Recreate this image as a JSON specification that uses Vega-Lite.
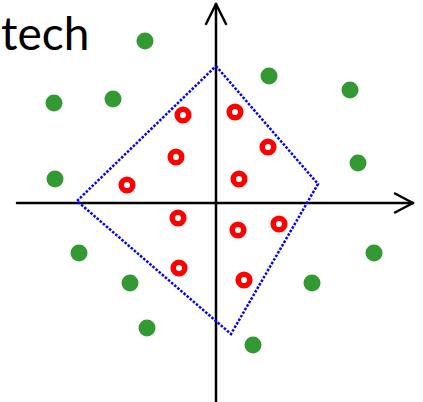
{
  "$schema": "https://vega.github.io/schema/vega-lite/v6.json",
  "width": 423,
  "height": 402,
  "autosize": {"type": "none"},
  "padding": 0,
  "background": "white",
  "config": {"view": {"stroke": null}},
  "layer": [
    {
      "data": {"values": [
        {"x": -19.9, "y": 0, "x2": 19.7, "y2": 0},
        {"x": 0, "y": -20.2, "x2": 0, "y2": 19.9},
        {"x": 0, "y": 19.9, "x2": -1.0, "y2": 17.9},
        {"x": 0, "y": 19.9, "x2": 1.0, "y2": 17.9},
        {"x": 19.7, "y": 0, "x2": 17.9, "y2": 0.95},
        {"x": 19.7, "y": 0, "x2": 17.9, "y2": -0.95}
      ]},
      "mark": {"type": "rule", "color": "black", "strokeWidth": 2.5, "strokeCap": "round"},
      "encoding": {
        "x": {"field": "x", "type": "quantitative", "scale": {"domain": [-21.6, 20.7], "nice": false, "zero": false}, "axis": null},
        "y": {"field": "y", "type": "quantitative", "scale": {"domain": [-19.9, 20.3], "nice": false, "zero": false}, "axis": null},
        "x2": {"field": "x2"},
        "y2": {"field": "y2"}
      }
    },
    {
      "data": {"values": [
        {"x": 0, "y": 13.7, "o": 1},
        {"x": 10.2, "y": 1.9, "o": 2},
        {"x": 1.5, "y": -13.1, "o": 3},
        {"x": -13.9, "y": 0.2, "o": 4},
        {"x": 0, "y": 13.7, "o": 5}
      ]},
      "mark": {"type": "line", "color": "#0000ff", "strokeWidth": 2.5, "strokeDash": [2.5, 1.6]},
      "encoding": {
        "x": {"field": "x", "type": "quantitative", "axis": null},
        "y": {"field": "y", "type": "quantitative", "axis": null},
        "order": {"field": "o", "type": "quantitative"}
      }
    },
    {
      "data": {"values": [
        {"x": -7.1, "y": 16.2},
        {"x": -16.2, "y": 10.0},
        {"x": -10.3, "y": 10.4},
        {"x": -16.1, "y": 2.4},
        {"x": 5.3, "y": 12.7},
        {"x": 13.4, "y": 11.3},
        {"x": 14.2, "y": 4.0},
        {"x": -13.7, "y": -5.0},
        {"x": -8.6, "y": -8.0},
        {"x": -6.9, "y": -12.5},
        {"x": 15.8, "y": -5.0},
        {"x": 9.6, "y": -8.0},
        {"x": 3.7, "y": -14.2}
      ]},
      "mark": {"type": "circle", "color": "#339933", "opacity": 1, "size": 290},
      "encoding": {
        "x": {"field": "x", "type": "quantitative", "axis": null},
        "y": {"field": "y", "type": "quantitative", "axis": null}
      }
    },
    {
      "data": {"values": [
        {"x": -3.3, "y": 8.8},
        {"x": -4.0, "y": 4.6},
        {"x": -8.9, "y": 1.8},
        {"x": 1.9, "y": 9.1},
        {"x": 5.2, "y": 5.6},
        {"x": 2.3, "y": 2.4},
        {"x": -3.8, "y": -1.5},
        {"x": -3.7, "y": -6.5},
        {"x": 2.2, "y": -2.7},
        {"x": 6.3, "y": -2.1},
        {"x": 2.8, "y": -7.7}
      ]},
      "mark": {"type": "point", "shape": "circle", "filled": false, "stroke": "#ff0000", "strokeWidth": 5.5, "opacity": 1, "size": 135},
      "encoding": {
        "x": {"field": "x", "type": "quantitative", "axis": null},
        "y": {"field": "y", "type": "quantitative", "axis": null}
      }
    },
    {
      "data": {"values": [{"x": -21.5, "y": 15.3, "label": "tech"}]},
      "mark": {"type": "text", "align": "left", "baseline": "alphabetic", "font": "Lato", "fontSize": 46, "color": "black"},
      "encoding": {
        "x": {"field": "x", "type": "quantitative", "axis": null},
        "y": {"field": "y", "type": "quantitative", "axis": null},
        "text": {"field": "label"}
      }
    }
  ]
}
